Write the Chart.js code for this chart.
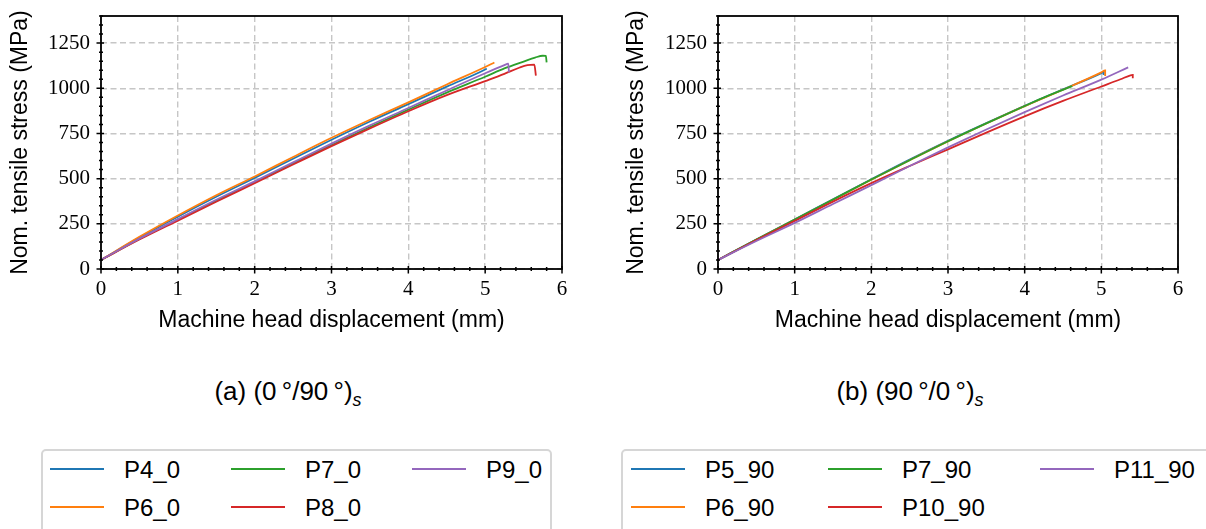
<!DOCTYPE html>
<html>
<head>
<meta charset="utf-8">
<script src="https://cdn.jsdelivr.net/npm/chart.js@4.4.0/dist/chart.umd.min.js"></script>
<style>
  body { margin: 0; width: 1206px; height: 529px; overflow: hidden; background: #fff; position: relative;
         font-family: "Liberation Sans", Arial, sans-serif; color: #000; }
  canvas.plot { position: absolute; top: 0; }
  .caption { position: absolute; top: 378px; font-size: 26px; line-height: 26px; white-space: nowrap;
             transform: translateX(-50%); }
  .caption i { font-size: 18px; position: relative; top: 6px; }
  .legend { position: absolute; top: 449px; height: 120px; border: 2px solid #d6d6d6; border-radius: 5px; background: #fff; }
  .legend .item { position: absolute; }
  .legend .handle { position: absolute; left: 0; width: 54px; height: 2px; }
  .legend .lbl { position: absolute; left: 74px; font-size: 24px; line-height: 24px; white-space: nowrap; }
</style>
</head>
<body>
<canvas id="chartA" class="plot" width="600" height="340" style="left:0px"></canvas>
<canvas id="chartB" class="plot" width="606" height="340" style="left:600px"></canvas>
<div class="caption" style="left:288px">(a) (0&#8201;&deg;/90&#8201;&deg;)<i>s</i></div>
<div class="caption" style="left:910px">(b) (90&#8201;&deg;/0&#8201;&deg;)<i>s</i></div>
<div id="legendA" class="legend" style="left:41px; width:507px"></div>
<div id="legendB" class="legend" style="left:621px; width:620px"></div>

<script>
// (0/90)s specimens: machine head displacement (mm) vs nominal stress (MPa)
var p4_0_x = [0, 0.5, 1, 1.5, 2, 2.5, 3, 3.5, 4, 4.5, 5, 5.02];
var p4_0_y = [50, 174, 290, 400, 504, 610, 715, 816, 912, 1009, 1104, 1109];
var p6_0_x = [0, 0.5, 1, 1.5, 2, 2.5, 3, 3.5, 4, 4.5, 5, 5.12];
var p6_0_y = [50, 178, 296, 408, 512, 620, 726, 826, 922, 1021, 1118, 1143];
var p7_0_x = [0, 0.5, 1, 1.5, 2, 2.5, 3, 3.5, 4, 4.5, 5, 5.25, 5.5, 5.65, 5.75, 5.79, 5.8];
var p7_0_y = [50, 166, 273, 378, 480, 584, 686, 786, 882, 976, 1064, 1110, 1148, 1170, 1180, 1179, 1143];
var p8_0_x = [0, 0.5, 1, 1.5, 2, 2.5, 3, 3.5, 4, 4.5, 5, 5.25, 5.45, 5.55, 5.64, 5.66];
var p8_0_y = [50, 163, 268, 372, 475, 578, 680, 778, 873, 962, 1040, 1080, 1115, 1128, 1131, 1070];
var p9_0_x = [0, 0.5, 1, 1.5, 2, 2.5, 3, 3.5, 4, 4.5, 5, 5.25, 5.3, 5.31];
var p9_0_y = [50, 168, 276, 383, 485, 590, 694, 795, 891, 988, 1083, 1128, 1136, 1088];

// (90/0)s specimens
var p5_90_x = [0, 0.5, 1, 1.5, 2, 2.5, 3, 3.5, 4, 4.5, 5, 5.03, 5.03];
var p5_90_y = [50, 163, 274, 386, 497, 606, 710, 808, 903, 994, 1084, 1091, 1074];
var p6_90_x = [0, 0.5, 1, 1.5, 2, 2.5, 3, 3.5, 4, 4.5, 5, 5.05, 5.05];
var p6_90_y = [50, 162, 272, 383, 494, 602, 706, 805, 901, 992, 1088, 1099, 1068];
var p7_90_x = [0, 0.5, 1, 1.5, 2, 2.5, 3, 3.5, 4, 4.3, 4.62];
var p7_90_y = [50, 163, 273, 384, 495, 602, 707, 806, 902, 958, 1012];
var p10_90_x = [0, 0.5, 1, 1.5, 2, 2.5, 3, 3.5, 4, 4.5, 5, 5.25, 5.38, 5.41, 5.41];
var p10_90_y = [50, 160, 266, 373, 475, 570, 662, 755, 845, 930, 1010, 1050, 1072, 1074, 1055];
var p11_90_x = [0, 0.5, 1, 1.5, 2, 2.5, 3, 3.5, 4, 4.5, 5, 5.35];
var p11_90_y = [50, 155, 255, 360, 464, 570, 673, 772, 868, 960, 1048, 1116];

var xTicks = [0, 1, 2, 3, 4, 5, 6];
var yTicks = [0, 250, 500, 750, 1000, 1250];

var colors = ['#1f77b4', '#ff7f0e', '#2ca02c', '#d62728', '#9467bd'];

function pts(xs, ys) {
    return xs.map(function (v, i) { return { x: v, y: ys[i] }; });
}

function makeSets(labels, series) {
    return labels.map(function (lab, i) {
        return {
            label: lab,
            data: pts(series[i][0], series[i][1]),
            borderColor: colors[i],
            backgroundColor: colors[i],
            borderWidth: 1.8,
            pointRadius: 0,
            cubicInterpolationMode: 'monotone',
            fill: false,
            order: -i          // later curves on top
        };
    });
}

// black frame plus major/minor tick marks on left and bottom
var frameTicks = {
    id: 'frameTicks',
    afterDraw: function (chart) {
        var ctx = chart.ctx, a = chart.chartArea, sx = chart.scales.x, sy = chart.scales.y;
        ctx.save();
        ctx.strokeStyle = '#000';
        ctx.beginPath();
        for (var i = 0; i <= 30; i++) {
            var px = sx.getPixelForValue(i / 5);
            var major = i % 5 === 0;
            ctx.moveTo(px, a.bottom - (major ? 3 : 2));
            ctx.lineTo(px, a.bottom + (major ? 4.5 : 2));
        }
        for (var j = 0; j <= 28; j++) {
            var py = sy.getPixelForValue(j * 50);
            var maj = j % 5 === 0;
            ctx.moveTo(a.left - (maj ? 4.5 : 2), py);
            ctx.lineTo(a.left + (maj ? 3 : 2), py);
        }
        ctx.lineWidth = 1.5;
        ctx.stroke();
        ctx.lineWidth = 1.8;
        ctx.strokeRect(a.left, a.top, a.right - a.left, a.bottom - a.top);
        ctx.restore();
    }
};

// fixed axis box sizes, no extra label padding around the plot area
function fixBox(prop, size) {
    return function (s) {
        s[prop] = size;
        s.paddingTop = s.paddingBottom = s.paddingLeft = s.paddingRight = 0;
    };
}

function makeChart(id, sets, yWidth, padRight, yTitlePad) {
    var gridStyle = { color: '#c6c6c6', lineWidth: 1.4, drawTicks: false };
    return new Chart(document.getElementById(id), {
        type: 'line',
        data: { datasets: sets },
        plugins: [frameTicks],
        options: {
            responsive: false,
            animation: false,
            layout: { padding: { top: 16, right: padRight, left: 0, bottom: 0 } },
            plugins: { legend: { display: false }, tooltip: { enabled: false } },
            scales: {
                x: {
                    type: 'linear', min: 0, max: 6,
                    afterFit: fixBox('height', 71),
                    ticks: {
                        stepSize: 1, includeBounds: false, padding: 8, color: '#000',
                        font: { family: '"Liberation Serif", serif', size: 21 },
                        callback: function (v) { return xTicks.indexOf(v) >= 0 ? String(v) : ''; }
                    },
                    grid: gridStyle,
                    border: { display: false, dash: [6, 3.5] },
                    title: {
                        display: true, text: 'Machine head displacement (mm)', color: '#000',
                        font: { family: '"Liberation Sans", Arial, sans-serif', size: 23 },
                        padding: { top: 0, bottom: 6 }
                    }
                },
                y: {
                    type: 'linear', min: 0, max: 1400,
                    afterFit: fixBox('width', yWidth),
                    ticks: {
                        stepSize: 250, includeBounds: false, padding: 11, color: '#000',
                        font: { family: '"Liberation Serif", serif', size: 21 },
                        callback: function (v) { return yTicks.indexOf(v) >= 0 ? String(v) : ''; }
                    },
                    grid: gridStyle,
                    border: { display: false, dash: [6, 3.5] },
                    title: {
                        display: true, text: 'Nom. tensile stress (MPa)', color: '#000',
                        font: { family: '"Liberation Sans", Arial, sans-serif', size: 23 },
                        padding: { top: yTitlePad, bottom: 0 }
                    }
                }
            }
        }
    });
}

var chartA = makeChart('chartA',
    makeSets(['P4_0', 'P6_0', 'P7_0', 'P8_0', 'P9_0'],
        [[p4_0_x, p4_0_y], [p6_0_x, p6_0_y], [p7_0_x, p7_0_y], [p8_0_x, p8_0_y], [p9_0_x, p9_0_y]]),
    101, 38, 7);

var chartB = makeChart('chartB',
    makeSets(['P5_90', 'P6_90', 'P7_90', 'P10_90', 'P11_90'],
        [[p5_90_x, p5_90_y], [p6_90_x, p6_90_y], [p7_90_x, p7_90_y], [p10_90_x, p10_90_y], [p11_90_x, p11_90_y]]),
    118, 28, 23);

// three-column legend, filled column by column like the dataset order
function buildLegend(elId, chart, cols) {
    var el = document.getElementById(elId);
    var rows = [18, 56];
    chart.data.datasets.forEach(function (ds, i) {
        var item = document.createElement('div');
        item.className = 'item';
        item.style.left = cols[Math.floor(i / 2)] + 'px';
        item.style.top = rows[i % 2] + 'px';
        var h = document.createElement('span');
        h.className = 'handle';
        h.style.background = ds.borderColor;
        h.style.top = '-1px';
        var t = document.createElement('span');
        t.className = 'lbl';
        t.style.top = '-11px';
        t.textContent = ds.label;
        item.appendChild(h);
        item.appendChild(t);
        el.appendChild(item);
    });
}

buildLegend('legendA', chartA, [7, 188, 369]);
buildLegend('legendB', chartB, [8, 205, 417]);
</script>
</body>
</html>
